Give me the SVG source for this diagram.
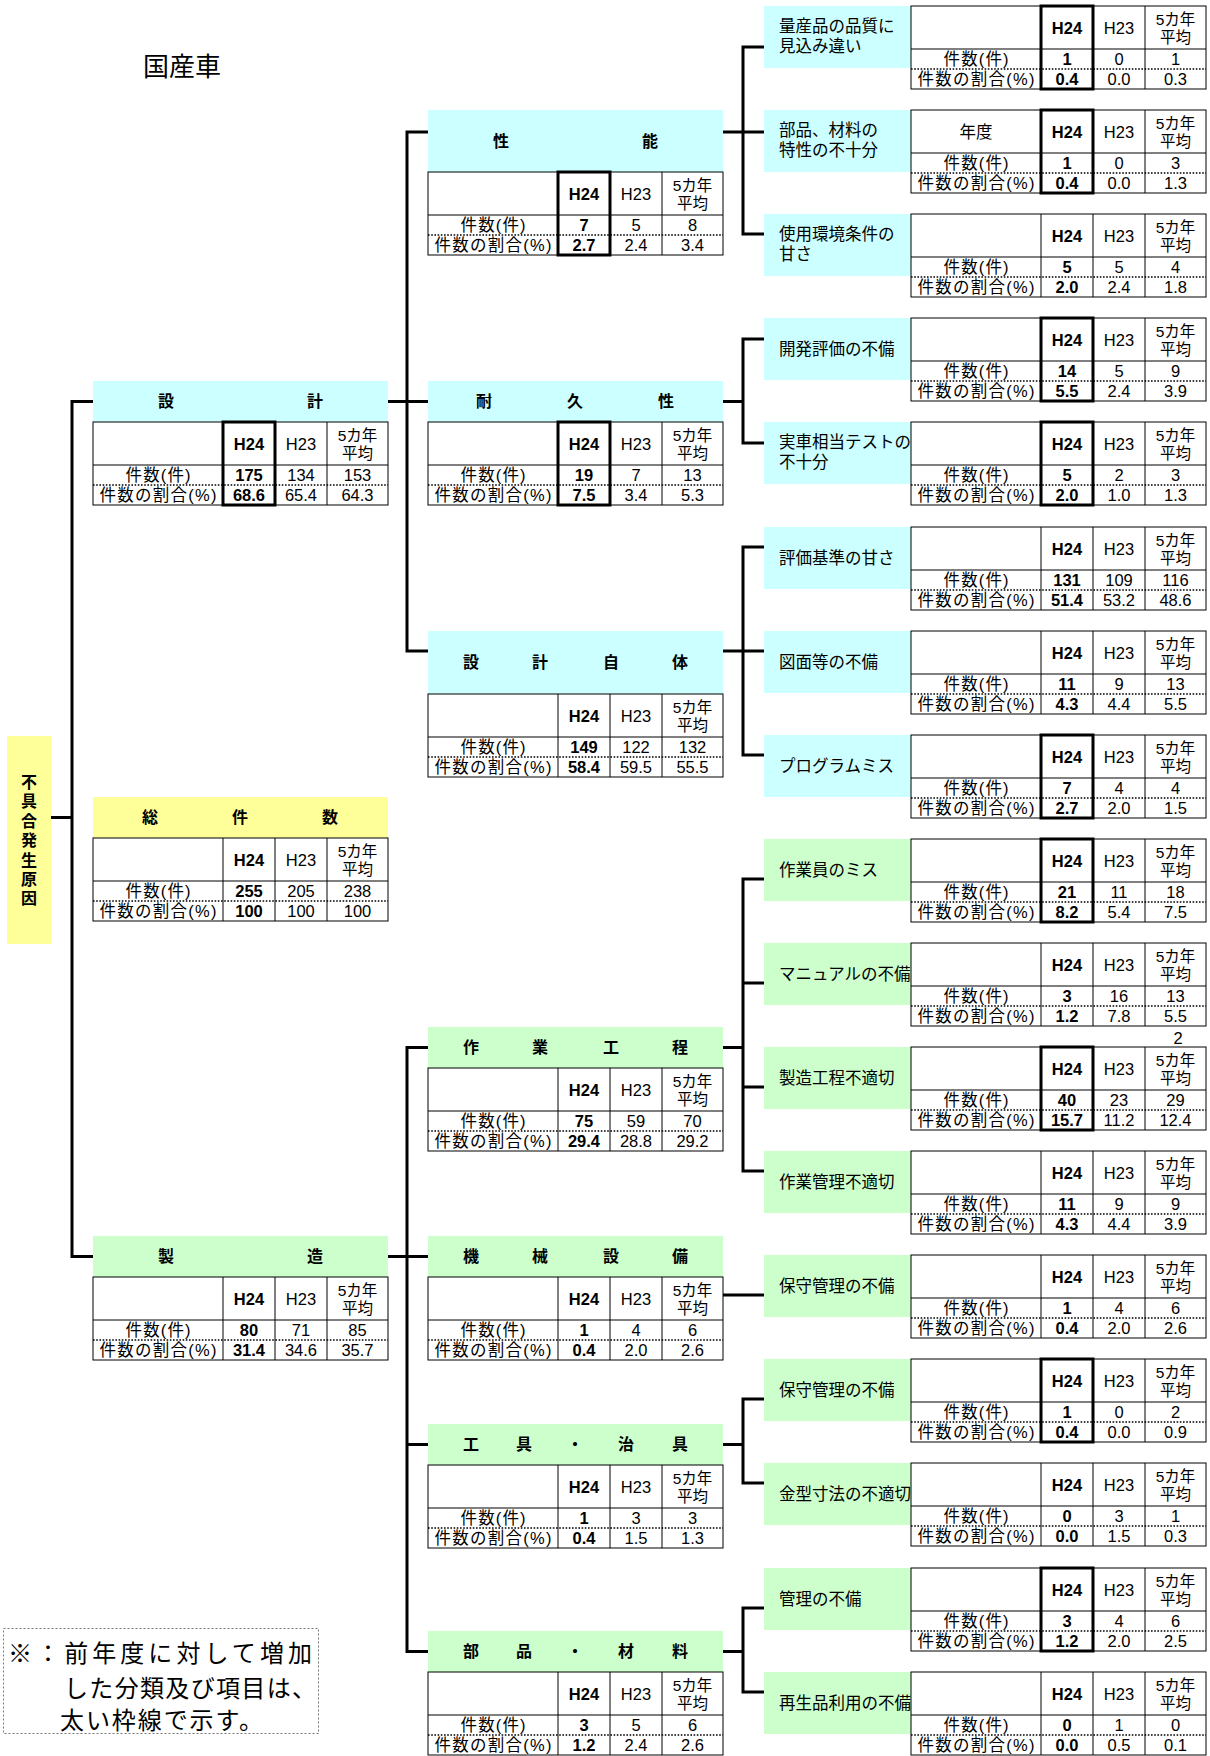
<svg xmlns="http://www.w3.org/2000/svg" xmlns:xlink="http://www.w3.org/1999/xlink" width="1210" height="1756" viewBox="0 0 1210 1756">
<style>
text{font-family:"Liberation Sans","Noto Sans CJK JP",sans-serif;fill:#000}
.c{text-anchor:middle;dominant-baseline:central;font-size:16.5px}
.f{text-anchor:middle;dominant-baseline:central;font-size:15.5px}
.b{font-weight:bold}
.hd{text-anchor:middle;dominant-baseline:central;font-size:16px;font-weight:bold}
.lb{dominant-baseline:central;font-size:16.5px}
.cy{fill:#CCFFFF}.gr{fill:#CCFFCC}.ye{fill:#FFFF99}
.conn path{fill:none;stroke:#000;stroke-width:3;stroke-linecap:square}
</style>
<defs>
<g id="grid">
<rect x="0" y="0" width="295" height="83" fill="#fff" stroke="#000" stroke-width="1"/>
<path d="M130,0V83M182,0V83M234,0V83M0,43H295" fill="none" stroke="#000" stroke-width="1"/>
<path d="M0,63H295" fill="none" stroke="#000" stroke-width="1.6" stroke-dasharray="1.6 1.6"/>
</g>
<rect id="hl" x="130" y="0" width="52" height="83" fill="none" stroke="#000" stroke-width="3"/>
</defs>
<rect width="1210" height="1756" fill="#fff"/>
<text x="143" y="67" font-size="26" dominant-baseline="central">国産車</text>

<g class="conn" id="connectors">
<path d="M51,817.5H72M72,401.5V1256.5M72,401.5H93M72,1256.5H93"/>
<path d="M388,401.5H407M407,132V651M407,132H428M407,401.5H428M407,651H428"/>
<path d="M388,1256.5H407M407,1047.5V1651.5M407,1047.5H428M407,1256.5H428M407,1444.5H428M407,1651.5H428"/>
<path d="M723,132H743M743,47V234M743,47H764M743,132H764M743,234H764"/>
<path d="M723,401.5H743M743,339V443M743,339H764M743,443H764"/>
<path d="M723,651H743M743,547V755M743,547H764M743,651H764M743,755H764"/>
<path d="M723,1047.5H743M743,879V1171M743,879H764M743,983H764M743,1087H764M743,1171H764"/>
<path d="M723,1295H764"/>
<path d="M723,1444.5H743M743,1399V1483M743,1399H764M743,1483H764"/>
<path d="M723,1651.5H743M743,1608V1692M743,1608H764M743,1692H764"/>
</g>

<g id="root">
<rect class="ye" x="7" y="736" width="44" height="208"/>
<text class="hd" x="29">
<tspan x="29" y="782">不</tspan><tspan x="29" y="801.4">具</tspan><tspan x="29" y="820.8">合</tspan><tspan x="29" y="840.2">発</tspan><tspan x="29" y="859.6">生</tspan><tspan x="29" y="879">原</tspan><tspan x="29" y="898.4">因</tspan>
</text>
</g>

<!-- Level 1 -->
<g id="n-sekkei">
<rect class="cy" x="93" y="381" width="295" height="41"/>
<text class="hd" x="166" y="401.5">設</text><text class="hd" x="315" y="401.5">計</text>
<g transform="translate(93,422)"><use href="#grid"/>
<text class="c b" x="156" y="21.5">H24</text><text class="c" x="208" y="21.5">H23</text><text class="f" x="264.5" y="13">5カ年</text><text class="f" x="264.5" y="31">平均</text>
<text class="c" x="65" y="53" textLength="65" lengthAdjust="spacing">件数(件)</text><text class="c b" x="156" y="53">175</text><text class="c" x="208" y="53">134</text><text class="c" x="264.5" y="53">153</text>
<text class="c" x="65" y="73" textLength="117" lengthAdjust="spacing">件数の割合(%)</text><text class="c b" x="156" y="73">68.6</text><text class="c" x="208" y="73">65.4</text><text class="c" x="264.5" y="73">64.3</text>
<use href="#hl"/></g>
</g>

<g id="n-total">
<rect class="ye" x="93" y="797" width="295" height="41"/>
<text class="hd" x="150" y="817.5">総</text><text class="hd" x="240" y="817.5">件</text><text class="hd" x="330" y="817.5">数</text>
<g transform="translate(93,838)"><use href="#grid"/>
<text class="c b" x="156" y="21.5">H24</text><text class="c" x="208" y="21.5">H23</text><text class="f" x="264.5" y="13">5カ年</text><text class="f" x="264.5" y="31">平均</text>
<text class="c" x="65" y="53" textLength="65" lengthAdjust="spacing">件数(件)</text><text class="c b" x="156" y="53">255</text><text class="c" x="208" y="53">205</text><text class="c" x="264.5" y="53">238</text>
<text class="c" x="65" y="73" textLength="117" lengthAdjust="spacing">件数の割合(%)</text><text class="c b" x="156" y="73">100</text><text class="c" x="208" y="73">100</text><text class="c" x="264.5" y="73">100</text>
</g>
</g>

<g id="n-seizo">
<rect class="gr" x="93" y="1236" width="295" height="41"/>
<text class="hd" x="166" y="1256.5">製</text><text class="hd" x="315" y="1256.5">造</text>
<g transform="translate(93,1277)"><use href="#grid"/>
<text class="c b" x="156" y="21.5">H24</text><text class="c" x="208" y="21.5">H23</text><text class="f" x="264.5" y="13">5カ年</text><text class="f" x="264.5" y="31">平均</text>
<text class="c" x="65" y="53" textLength="65" lengthAdjust="spacing">件数(件)</text><text class="c b" x="156" y="53">80</text><text class="c" x="208" y="53">71</text><text class="c" x="264.5" y="53">85</text>
<text class="c" x="65" y="73" textLength="117" lengthAdjust="spacing">件数の割合(%)</text><text class="c b" x="156" y="73">31.4</text><text class="c" x="208" y="73">34.6</text><text class="c" x="264.5" y="73">35.7</text>
</g>
</g>

<!-- Level 2 -->
<g id="n-seino">
<rect class="cy" x="428" y="110" width="295" height="62"/>
<text class="hd" x="501" y="141">性</text><text class="hd" x="650" y="141">能</text>
<g transform="translate(428,172)"><use href="#grid"/>
<text class="c b" x="156" y="21.5">H24</text><text class="c" x="208" y="21.5">H23</text><text class="f" x="264.5" y="13">5カ年</text><text class="f" x="264.5" y="31">平均</text>
<text class="c" x="65" y="53" textLength="65" lengthAdjust="spacing">件数(件)</text><text class="c b" x="156" y="53">7</text><text class="c" x="208" y="53">5</text><text class="c" x="264.5" y="53">8</text>
<text class="c" x="65" y="73" textLength="117" lengthAdjust="spacing">件数の割合(%)</text><text class="c b" x="156" y="73">2.7</text><text class="c" x="208" y="73">2.4</text><text class="c" x="264.5" y="73">3.4</text>
<use href="#hl"/></g>
</g>

<g id="n-taikyu">
<rect class="cy" x="428" y="381" width="295" height="41"/>
<text class="hd" x="484" y="401.5">耐</text><text class="hd" x="575" y="401.5">久</text><text class="hd" x="666" y="401.5">性</text>
<g transform="translate(428,422)"><use href="#grid"/>
<text class="c b" x="156" y="21.5">H24</text><text class="c" x="208" y="21.5">H23</text><text class="f" x="264.5" y="13">5カ年</text><text class="f" x="264.5" y="31">平均</text>
<text class="c" x="65" y="53" textLength="65" lengthAdjust="spacing">件数(件)</text><text class="c b" x="156" y="53">19</text><text class="c" x="208" y="53">7</text><text class="c" x="264.5" y="53">13</text>
<text class="c" x="65" y="73" textLength="117" lengthAdjust="spacing">件数の割合(%)</text><text class="c b" x="156" y="73">7.5</text><text class="c" x="208" y="73">3.4</text><text class="c" x="264.5" y="73">5.3</text>
<use href="#hl"/></g>
</g>

<g id="n-sekkeijitai">
<rect class="cy" x="428" y="631" width="295" height="63"/>
<text class="hd" x="471" y="662.5">設</text><text class="hd" x="540" y="662.5">計</text><text class="hd" x="611" y="662.5">自</text><text class="hd" x="680" y="662.5">体</text>
<g transform="translate(428,694)"><use href="#grid"/>
<text class="c b" x="156" y="21.5">H24</text><text class="c" x="208" y="21.5">H23</text><text class="f" x="264.5" y="13">5カ年</text><text class="f" x="264.5" y="31">平均</text>
<text class="c" x="65" y="53" textLength="65" lengthAdjust="spacing">件数(件)</text><text class="c b" x="156" y="53">149</text><text class="c" x="208" y="53">122</text><text class="c" x="264.5" y="53">132</text>
<text class="c" x="65" y="73" textLength="117" lengthAdjust="spacing">件数の割合(%)</text><text class="c b" x="156" y="73">58.4</text><text class="c" x="208" y="73">59.5</text><text class="c" x="264.5" y="73">55.5</text>
</g>
</g>

<g id="n-sagyokotei">
<rect class="gr" x="428" y="1027" width="295" height="41"/>
<text class="hd" x="471" y="1047.5">作</text><text class="hd" x="540" y="1047.5">業</text><text class="hd" x="611" y="1047.5">工</text><text class="hd" x="680" y="1047.5">程</text>
<g transform="translate(428,1068)"><use href="#grid"/>
<text class="c b" x="156" y="21.5">H24</text><text class="c" x="208" y="21.5">H23</text><text class="f" x="264.5" y="13">5カ年</text><text class="f" x="264.5" y="31">平均</text>
<text class="c" x="65" y="53" textLength="65" lengthAdjust="spacing">件数(件)</text><text class="c b" x="156" y="53">75</text><text class="c" x="208" y="53">59</text><text class="c" x="264.5" y="53">70</text>
<text class="c" x="65" y="73" textLength="117" lengthAdjust="spacing">件数の割合(%)</text><text class="c b" x="156" y="73">29.4</text><text class="c" x="208" y="73">28.8</text><text class="c" x="264.5" y="73">29.2</text>
</g>
</g>

<g id="n-kikai">
<rect class="gr" x="428" y="1236" width="295" height="41"/>
<text class="hd" x="471" y="1256.5">機</text><text class="hd" x="540" y="1256.5">械</text><text class="hd" x="611" y="1256.5">設</text><text class="hd" x="680" y="1256.5">備</text>
<g transform="translate(428,1277)"><use href="#grid"/>
<text class="c b" x="156" y="21.5">H24</text><text class="c" x="208" y="21.5">H23</text><text class="f" x="264.5" y="13">5カ年</text><text class="f" x="264.5" y="31">平均</text>
<text class="c" x="65" y="53" textLength="65" lengthAdjust="spacing">件数(件)</text><text class="c b" x="156" y="53">1</text><text class="c" x="208" y="53">4</text><text class="c" x="264.5" y="53">6</text>
<text class="c" x="65" y="73" textLength="117" lengthAdjust="spacing">件数の割合(%)</text><text class="c b" x="156" y="73">0.4</text><text class="c" x="208" y="73">2.0</text><text class="c" x="264.5" y="73">2.6</text>
</g>
</g>

<g id="n-kogu">
<rect class="gr" x="428" y="1424" width="295" height="41"/>
<text class="hd" x="471" y="1444.5">工</text><text class="hd" x="524" y="1444.5">具</text><text class="hd" x="575" y="1444.5">・</text><text class="hd" x="626" y="1444.5">治</text><text class="hd" x="680" y="1444.5">具</text>
<g transform="translate(428,1465)"><use href="#grid"/>
<text class="c b" x="156" y="21.5">H24</text><text class="c" x="208" y="21.5">H23</text><text class="f" x="264.5" y="13">5カ年</text><text class="f" x="264.5" y="31">平均</text>
<text class="c" x="65" y="53" textLength="65" lengthAdjust="spacing">件数(件)</text><text class="c b" x="156" y="53">1</text><text class="c" x="208" y="53">3</text><text class="c" x="264.5" y="53">3</text>
<text class="c" x="65" y="73" textLength="117" lengthAdjust="spacing">件数の割合(%)</text><text class="c b" x="156" y="73">0.4</text><text class="c" x="208" y="73">1.5</text><text class="c" x="264.5" y="73">1.3</text>
</g>
</g>

<g id="n-buhin">
<rect class="gr" x="428" y="1631" width="295" height="41"/>
<text class="hd" x="471" y="1651.5">部</text><text class="hd" x="524" y="1651.5">品</text><text class="hd" x="575" y="1651.5">・</text><text class="hd" x="626" y="1651.5">材</text><text class="hd" x="680" y="1651.5">料</text>
<g transform="translate(428,1672)"><use href="#grid"/>
<text class="c b" x="156" y="21.5">H24</text><text class="c" x="208" y="21.5">H23</text><text class="f" x="264.5" y="13">5カ年</text><text class="f" x="264.5" y="31">平均</text>
<text class="c" x="65" y="53" textLength="65" lengthAdjust="spacing">件数(件)</text><text class="c b" x="156" y="53">3</text><text class="c" x="208" y="53">5</text><text class="c" x="264.5" y="53">6</text>
<text class="c" x="65" y="73" textLength="117" lengthAdjust="spacing">件数の割合(%)</text><text class="c b" x="156" y="73">1.2</text><text class="c" x="208" y="73">2.4</text><text class="c" x="264.5" y="73">2.6</text>
</g>
</g>

<!-- Level 3 -->
<g id="i00" transform="translate(911,6)">
<rect class="cy" x="-147" y="0" width="147" height="62"/><use href="#grid"/>
<text class="lb" x="-132" y="20">量産品の品質に</text><text class="lb" x="-132" y="40">見込み違い</text>
<text class="c b" x="156" y="21.5">H24</text><text class="c" x="208" y="21.5">H23</text><text class="f" x="264.5" y="13">5カ年</text><text class="f" x="264.5" y="31">平均</text>
<text class="c" x="65" y="53" textLength="65" lengthAdjust="spacing">件数(件)</text><text class="c b" x="156" y="53">1</text><text class="c" x="208" y="53">0</text><text class="c" x="264.5" y="53">1</text>
<text class="c" x="65" y="73" textLength="117" lengthAdjust="spacing">件数の割合(%)</text><text class="c b" x="156" y="73">0.4</text><text class="c" x="208" y="73">0.0</text><text class="c" x="264.5" y="73">0.3</text>
<use href="#hl"/></g>

<g id="i01" transform="translate(911,110)">
<rect class="cy" x="-147" y="0" width="147" height="62"/><use href="#grid"/>
<text class="lb" x="-132" y="20">部品、材料の</text><text class="lb" x="-132" y="40">特性の不十分</text>
<text class="c" x="65" y="21.5">年度</text>
<text class="c b" x="156" y="21.5">H24</text><text class="c" x="208" y="21.5">H23</text><text class="f" x="264.5" y="13">5カ年</text><text class="f" x="264.5" y="31">平均</text>
<text class="c" x="65" y="53" textLength="65" lengthAdjust="spacing">件数(件)</text><text class="c b" x="156" y="53">1</text><text class="c" x="208" y="53">0</text><text class="c" x="264.5" y="53">3</text>
<text class="c" x="65" y="73" textLength="117" lengthAdjust="spacing">件数の割合(%)</text><text class="c b" x="156" y="73">0.4</text><text class="c" x="208" y="73">0.0</text><text class="c" x="264.5" y="73">1.3</text>
<use href="#hl"/></g>

<g id="i02" transform="translate(911,214)">
<rect class="cy" x="-147" y="0" width="147" height="62"/><use href="#grid"/>
<text class="lb" x="-132" y="20">使用環境条件の</text><text class="lb" x="-132" y="40">甘さ</text>
<text class="c b" x="156" y="21.5">H24</text><text class="c" x="208" y="21.5">H23</text><text class="f" x="264.5" y="13">5カ年</text><text class="f" x="264.5" y="31">平均</text>
<text class="c" x="65" y="53" textLength="65" lengthAdjust="spacing">件数(件)</text><text class="c b" x="156" y="53">5</text><text class="c" x="208" y="53">5</text><text class="c" x="264.5" y="53">4</text>
<text class="c" x="65" y="73" textLength="117" lengthAdjust="spacing">件数の割合(%)</text><text class="c b" x="156" y="73">2.0</text><text class="c" x="208" y="73">2.4</text><text class="c" x="264.5" y="73">1.8</text>
</g>

<g id="i03" transform="translate(911,318)">
<rect class="cy" x="-147" y="0" width="147" height="62"/><use href="#grid"/>
<text class="lb" x="-132" y="31">開発評価の不備</text>
<text class="c b" x="156" y="21.5">H24</text><text class="c" x="208" y="21.5">H23</text><text class="f" x="264.5" y="13">5カ年</text><text class="f" x="264.5" y="31">平均</text>
<text class="c" x="65" y="53" textLength="65" lengthAdjust="spacing">件数(件)</text><text class="c b" x="156" y="53">14</text><text class="c" x="208" y="53">5</text><text class="c" x="264.5" y="53">9</text>
<text class="c" x="65" y="73" textLength="117" lengthAdjust="spacing">件数の割合(%)</text><text class="c b" x="156" y="73">5.5</text><text class="c" x="208" y="73">2.4</text><text class="c" x="264.5" y="73">3.9</text>
<use href="#hl"/></g>

<g id="i04" transform="translate(911,422)">
<rect class="cy" x="-147" y="0" width="147" height="62"/><use href="#grid"/>
<text class="lb" x="-132" y="20">実車相当テストの</text><text class="lb" x="-132" y="40">不十分</text>
<text class="c b" x="156" y="21.5">H24</text><text class="c" x="208" y="21.5">H23</text><text class="f" x="264.5" y="13">5カ年</text><text class="f" x="264.5" y="31">平均</text>
<text class="c" x="65" y="53" textLength="65" lengthAdjust="spacing">件数(件)</text><text class="c b" x="156" y="53">5</text><text class="c" x="208" y="53">2</text><text class="c" x="264.5" y="53">3</text>
<text class="c" x="65" y="73" textLength="117" lengthAdjust="spacing">件数の割合(%)</text><text class="c b" x="156" y="73">2.0</text><text class="c" x="208" y="73">1.0</text><text class="c" x="264.5" y="73">1.3</text>
<use href="#hl"/></g>

<g id="i05" transform="translate(911,527)">
<rect class="cy" x="-147" y="0" width="147" height="62"/><use href="#grid"/>
<text class="lb" x="-132" y="31">評価基準の甘さ</text>
<text class="c b" x="156" y="21.5">H24</text><text class="c" x="208" y="21.5">H23</text><text class="f" x="264.5" y="13">5カ年</text><text class="f" x="264.5" y="31">平均</text>
<text class="c" x="65" y="53" textLength="65" lengthAdjust="spacing">件数(件)</text><text class="c b" x="156" y="53">131</text><text class="c" x="208" y="53">109</text><text class="c" x="264.5" y="53">116</text>
<text class="c" x="65" y="73" textLength="117" lengthAdjust="spacing">件数の割合(%)</text><text class="c b" x="156" y="73">51.4</text><text class="c" x="208" y="73">53.2</text><text class="c" x="264.5" y="73">48.6</text>
</g>

<g id="i06" transform="translate(911,631)">
<rect class="cy" x="-147" y="0" width="147" height="62"/><use href="#grid"/>
<text class="lb" x="-132" y="31">図面等の不備</text>
<text class="c b" x="156" y="21.5">H24</text><text class="c" x="208" y="21.5">H23</text><text class="f" x="264.5" y="13">5カ年</text><text class="f" x="264.5" y="31">平均</text>
<text class="c" x="65" y="53" textLength="65" lengthAdjust="spacing">件数(件)</text><text class="c b" x="156" y="53">11</text><text class="c" x="208" y="53">9</text><text class="c" x="264.5" y="53">13</text>
<text class="c" x="65" y="73" textLength="117" lengthAdjust="spacing">件数の割合(%)</text><text class="c b" x="156" y="73">4.3</text><text class="c" x="208" y="73">4.4</text><text class="c" x="264.5" y="73">5.5</text>
</g>

<g id="i07" transform="translate(911,735)">
<rect class="cy" x="-147" y="0" width="147" height="62"/><use href="#grid"/>
<text class="lb" x="-132" y="31">プログラムミス</text>
<text class="c b" x="156" y="21.5">H24</text><text class="c" x="208" y="21.5">H23</text><text class="f" x="264.5" y="13">5カ年</text><text class="f" x="264.5" y="31">平均</text>
<text class="c" x="65" y="53" textLength="65" lengthAdjust="spacing">件数(件)</text><text class="c b" x="156" y="53">7</text><text class="c" x="208" y="53">4</text><text class="c" x="264.5" y="53">4</text>
<text class="c" x="65" y="73" textLength="117" lengthAdjust="spacing">件数の割合(%)</text><text class="c b" x="156" y="73">2.7</text><text class="c" x="208" y="73">2.0</text><text class="c" x="264.5" y="73">1.5</text>
<use href="#hl"/></g>

<g id="i08" transform="translate(911,839)">
<rect class="gr" x="-147" y="0" width="147" height="62"/><use href="#grid"/>
<text class="lb" x="-132" y="31">作業員のミス</text>
<text class="c b" x="156" y="21.5">H24</text><text class="c" x="208" y="21.5">H23</text><text class="f" x="264.5" y="13">5カ年</text><text class="f" x="264.5" y="31">平均</text>
<text class="c" x="65" y="53" textLength="65" lengthAdjust="spacing">件数(件)</text><text class="c b" x="156" y="53">21</text><text class="c" x="208" y="53">11</text><text class="c" x="264.5" y="53">18</text>
<text class="c" x="65" y="73" textLength="117" lengthAdjust="spacing">件数の割合(%)</text><text class="c b" x="156" y="73">8.2</text><text class="c" x="208" y="73">5.4</text><text class="c" x="264.5" y="73">7.5</text>
<use href="#hl"/></g>

<g id="i09" transform="translate(911,943)">
<rect class="gr" x="-147" y="0" width="147" height="62"/><use href="#grid"/>
<text class="lb" x="-132" y="31">マニュアルの不備</text>
<text class="c b" x="156" y="21.5">H24</text><text class="c" x="208" y="21.5">H23</text><text class="f" x="264.5" y="13">5カ年</text><text class="f" x="264.5" y="31">平均</text>
<text class="c" x="65" y="53" textLength="65" lengthAdjust="spacing">件数(件)</text><text class="c b" x="156" y="53">3</text><text class="c" x="208" y="53">16</text><text class="c" x="264.5" y="53">13</text>
<text class="c" x="65" y="73" textLength="117" lengthAdjust="spacing">件数の割合(%)</text><text class="c b" x="156" y="73">1.2</text><text class="c" x="208" y="73">7.8</text><text class="c" x="264.5" y="73">5.5</text>
</g>

<g id="i10" transform="translate(911,1047)">
<rect class="gr" x="-147" y="0" width="147" height="62"/><use href="#grid"/>
<text class="lb" x="-132" y="31">製造工程不適切</text>
<text class="c" x="267" y="-9">2</text>
<text class="c b" x="156" y="21.5">H24</text><text class="c" x="208" y="21.5">H23</text><text class="f" x="264.5" y="13">5カ年</text><text class="f" x="264.5" y="31">平均</text>
<text class="c" x="65" y="53" textLength="65" lengthAdjust="spacing">件数(件)</text><text class="c b" x="156" y="53">40</text><text class="c" x="208" y="53">23</text><text class="c" x="264.5" y="53">29</text>
<text class="c" x="65" y="73" textLength="117" lengthAdjust="spacing">件数の割合(%)</text><text class="c b" x="156" y="73">15.7</text><text class="c" x="208" y="73">11.2</text><text class="c" x="264.5" y="73">12.4</text>
<use href="#hl"/></g>

<g id="i11" transform="translate(911,1151)">
<rect class="gr" x="-147" y="0" width="147" height="62"/><use href="#grid"/>
<text class="lb" x="-132" y="31">作業管理不適切</text>
<text class="c b" x="156" y="21.5">H24</text><text class="c" x="208" y="21.5">H23</text><text class="f" x="264.5" y="13">5カ年</text><text class="f" x="264.5" y="31">平均</text>
<text class="c" x="65" y="53" textLength="65" lengthAdjust="spacing">件数(件)</text><text class="c b" x="156" y="53">11</text><text class="c" x="208" y="53">9</text><text class="c" x="264.5" y="53">9</text>
<text class="c" x="65" y="73" textLength="117" lengthAdjust="spacing">件数の割合(%)</text><text class="c b" x="156" y="73">4.3</text><text class="c" x="208" y="73">4.4</text><text class="c" x="264.5" y="73">3.9</text>
</g>

<g id="i12" transform="translate(911,1255)">
<rect class="gr" x="-147" y="0" width="147" height="62"/><use href="#grid"/>
<text class="lb" x="-132" y="31">保守管理の不備</text>
<text class="c b" x="156" y="21.5">H24</text><text class="c" x="208" y="21.5">H23</text><text class="f" x="264.5" y="13">5カ年</text><text class="f" x="264.5" y="31">平均</text>
<text class="c" x="65" y="53" textLength="65" lengthAdjust="spacing">件数(件)</text><text class="c b" x="156" y="53">1</text><text class="c" x="208" y="53">4</text><text class="c" x="264.5" y="53">6</text>
<text class="c" x="65" y="73" textLength="117" lengthAdjust="spacing">件数の割合(%)</text><text class="c b" x="156" y="73">0.4</text><text class="c" x="208" y="73">2.0</text><text class="c" x="264.5" y="73">2.6</text>
</g>

<g id="i13" transform="translate(911,1359)">
<rect class="gr" x="-147" y="0" width="147" height="62"/><use href="#grid"/>
<text class="lb" x="-132" y="31">保守管理の不備</text>
<text class="c b" x="156" y="21.5">H24</text><text class="c" x="208" y="21.5">H23</text><text class="f" x="264.5" y="13">5カ年</text><text class="f" x="264.5" y="31">平均</text>
<text class="c" x="65" y="53" textLength="65" lengthAdjust="spacing">件数(件)</text><text class="c b" x="156" y="53">1</text><text class="c" x="208" y="53">0</text><text class="c" x="264.5" y="53">2</text>
<text class="c" x="65" y="73" textLength="117" lengthAdjust="spacing">件数の割合(%)</text><text class="c b" x="156" y="73">0.4</text><text class="c" x="208" y="73">0.0</text><text class="c" x="264.5" y="73">0.9</text>
<use href="#hl"/></g>

<g id="i14" transform="translate(911,1463)">
<rect class="gr" x="-147" y="0" width="147" height="62"/><use href="#grid"/>
<text class="lb" x="-132" y="31">金型寸法の不適切</text>
<text class="c b" x="156" y="21.5">H24</text><text class="c" x="208" y="21.5">H23</text><text class="f" x="264.5" y="13">5カ年</text><text class="f" x="264.5" y="31">平均</text>
<text class="c" x="65" y="53" textLength="65" lengthAdjust="spacing">件数(件)</text><text class="c b" x="156" y="53">0</text><text class="c" x="208" y="53">3</text><text class="c" x="264.5" y="53">1</text>
<text class="c" x="65" y="73" textLength="117" lengthAdjust="spacing">件数の割合(%)</text><text class="c b" x="156" y="73">0.0</text><text class="c" x="208" y="73">1.5</text><text class="c" x="264.5" y="73">0.3</text>
</g>

<g id="i15" transform="translate(911,1568)">
<rect class="gr" x="-147" y="0" width="147" height="62"/><use href="#grid"/>
<text class="lb" x="-132" y="31">管理の不備</text>
<text class="c b" x="156" y="21.5">H24</text><text class="c" x="208" y="21.5">H23</text><text class="f" x="264.5" y="13">5カ年</text><text class="f" x="264.5" y="31">平均</text>
<text class="c" x="65" y="53" textLength="65" lengthAdjust="spacing">件数(件)</text><text class="c b" x="156" y="53">3</text><text class="c" x="208" y="53">4</text><text class="c" x="264.5" y="53">6</text>
<text class="c" x="65" y="73" textLength="117" lengthAdjust="spacing">件数の割合(%)</text><text class="c b" x="156" y="73">1.2</text><text class="c" x="208" y="73">2.0</text><text class="c" x="264.5" y="73">2.5</text>
<use href="#hl"/></g>

<g id="i16" transform="translate(911,1672)">
<rect class="gr" x="-147" y="0" width="147" height="62"/><use href="#grid"/>
<text class="lb" x="-132" y="31">再生品利用の不備</text>
<text class="c b" x="156" y="21.5">H24</text><text class="c" x="208" y="21.5">H23</text><text class="f" x="264.5" y="13">5カ年</text><text class="f" x="264.5" y="31">平均</text>
<text class="c" x="65" y="53" textLength="65" lengthAdjust="spacing">件数(件)</text><text class="c b" x="156" y="53">0</text><text class="c" x="208" y="53">1</text><text class="c" x="264.5" y="53">0</text>
<text class="c" x="65" y="73" textLength="117" lengthAdjust="spacing">件数の割合(%)</text><text class="c b" x="156" y="73">0.0</text><text class="c" x="208" y="73">0.5</text><text class="c" x="264.5" y="73">0.1</text>
</g>

<g id="note">
<rect x="3.5" y="1628.5" width="315" height="105" fill="none" stroke="#777" stroke-width="1" stroke-dasharray="2 2"/>
<text x="8" y="1653" font-size="24" dominant-baseline="central" textLength="304" lengthAdjust="spacing">※：前年度に対して増加</text>
<text x="64" y="1688" font-size="24" dominant-baseline="central" textLength="252" lengthAdjust="spacing">した分類及び項目は、</text>
<text x="60" y="1720" font-size="24" dominant-baseline="central" textLength="203" lengthAdjust="spacing">太い枠線で示す。</text>
</g>
</svg>
